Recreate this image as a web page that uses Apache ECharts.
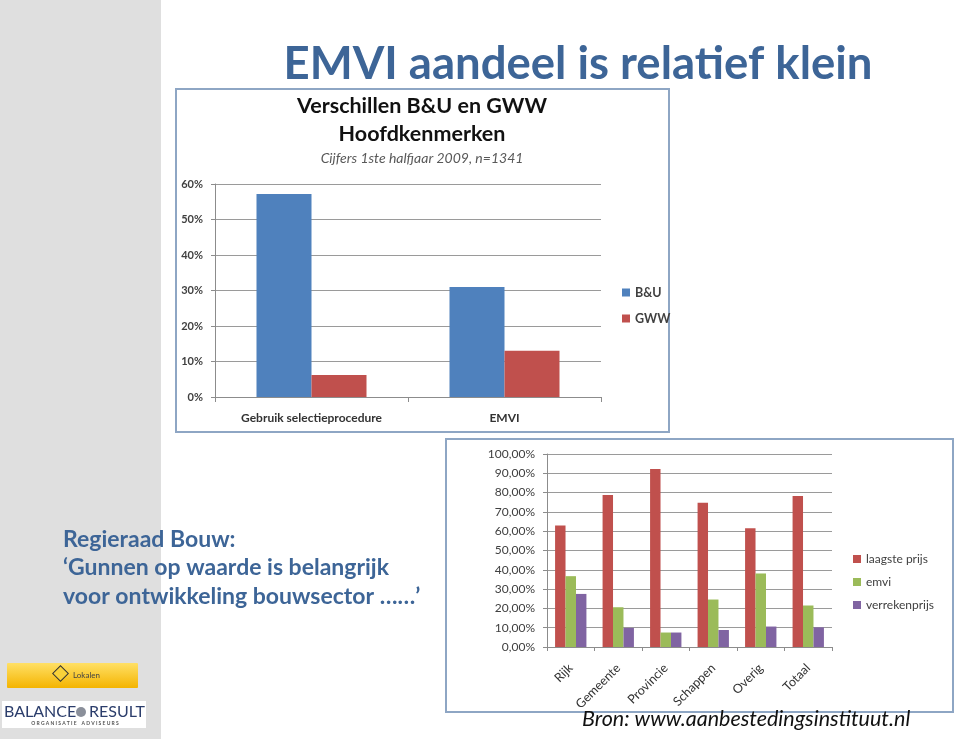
<!DOCTYPE html>
<html>
<head>
<meta charset="utf-8">
<script src="https://cdn.jsdelivr.net/npm/echarts@6/dist/echarts.min.js"></script>
<style>
html,body{margin:0;padding:0;background:#fff;}
#c{width:959px;height:739px;}
</style>
</head>
<body>
<div id="c"></div>
<script>
// Top chart data
var topCategories = ['Gebruik selectieprocedure', 'EMVI'];
var topBU = [57.2, 31.0];
var topGWW = [6.2, 13.0];
var topTicks = [0, 10, 20, 30, 40, 50, 60];

// Bottom chart data
var botCategories = ['Rijk', 'Gemeente', 'Provincie', 'Schappen', 'Overig', 'Totaal'];
var laagstePrijs = [62.9, 78.8, 92.2, 74.8, 61.5, 78.3];
var emvi = [36.7, 20.6, 7.5, 24.6, 38.1, 21.5];
var verrekenprijs = [27.5, 9.9, 7.5, 8.8, 10.6, 10.2];

var FONT = 'Lato, "Open Sans", sans-serif';
var chart = echarts.init(document.getElementById('c'), null, {renderer: 'canvas'});

var option = {
  animation: false,
  backgroundColor: '#ffffff',
  textStyle: {fontFamily: FONT},
  graphic: [
    {type: 'rect', z: -10, shape: {x: 0, y: 0, width: 161, height: 739}, style: {fill: '#dfdfdf'}},
    {type: 'rect', z: -9, shape: {x: 176, y: 89, width: 493, height: 343}, style: {fill: '#ffffff', stroke: '#8ea6c4', lineWidth: 2}},
    {type: 'rect', z: -9, shape: {x: 446, y: 439, width: 507, height: 273}, style: {fill: '#ffffff', stroke: '#8ea6c4', lineWidth: 2}},
    {type: 'text', z: 10, style: {text: 'EMVI aandeel is relatief klein', x: 578, y: 64, align: 'center', verticalAlign: 'middle', font: 'bold 45.5px ' + FONT, fill: '#3d6597'}},
    {type: 'text', z: 10, style: {text: 'Verschillen B&U en GWW', x: 422, y: 106, align: 'center', verticalAlign: 'middle', font: 'bold 21.5px ' + FONT, fill: '#111'}},
    {type: 'text', z: 10, style: {text: 'Hoofdkenmerken', x: 422, y: 134, align: 'center', verticalAlign: 'middle', font: 'bold 21.5px ' + FONT, fill: '#111'}},
    {type: 'text', z: 10, style: {text: 'Cijfers 1ste halfjaar 2009, n=1341', x: 422, y: 158, align: 'center', verticalAlign: 'middle', font: 'italic 14px ' + FONT, fill: '#595959'}},
    {type: 'text', z: 10, style: {text: 'Regieraad Bouw:', x: 63, y: 540, align: 'left', verticalAlign: 'middle', font: 'bold 23px ' + FONT, fill: '#3d6597'}},
    {type: 'text', z: 10, style: {text: '\u2018Gunnen op waarde is belangrijk', x: 63, y: 568, align: 'left', verticalAlign: 'middle', font: 'bold 23px ' + FONT, fill: '#3d6597'}},
    {type: 'text', z: 10, style: {text: 'voor ontwikkeling bouwsector \u2026\u2026\u2019', x: 63, y: 597, align: 'left', verticalAlign: 'middle', font: 'bold 23px ' + FONT, fill: '#3d6597'}},
    {type: 'text', z: 10, style: {text: 'Bron: www.aanbestedingsinstituut.nl', x: 582, y: 719, align: 'left', verticalAlign: 'middle', font: 'italic 21.5px ' + FONT, fill: '#111'}},
    // Lokalen logo
    {type: 'rect', z: 5, shape: {x: 7, y: 663, width: 131, height: 25, r: 1},
      style: {fill: new echarts.graphic.LinearGradient(0, 0, 0, 1, [{offset: 0, color: '#ffe066'}, {offset: 1, color: '#f4b400'}])}},
    {type: 'rect', z: 6, shape: {x: 55, y: 668, width: 11, height: 11}, rotation: Math.PI / 4, originX: 60.5, originY: 673.5,
      style: {fill: '#f9d23a', stroke: '#333', lineWidth: 1}},
    {type: 'text', z: 7, style: {text: 'Lokalen', x: 73, y: 675, align: 'left', verticalAlign: 'middle', font: '8px ' + FONT, fill: '#444'}},
    // Balance Result logo
    {type: 'rect', z: 5, shape: {x: 2, y: 701, width: 144, height: 27}, style: {fill: '#ffffff'}},
    {type: 'text', z: 6, style: {text: 'BALANCE', x: 4, y: 712, align: 'left', verticalAlign: 'middle', font: '16px ' + FONT, fill: '#2b3d6b'}},
    {type: 'circle', z: 6, shape: {cx: 81, cy: 712, r: 5}, style: {fill: '#8a8f9a'}},
    {type: 'text', z: 6, style: {text: 'RESULT', x: 89, y: 712, align: 'left', verticalAlign: 'middle', font: '16px ' + FONT, fill: '#2b3d6b'}},
    {type: 'text', z: 6, style: {text: 'O R G A N I S A T I E    A D V I S E U R S', x: 75, y: 723, align: 'center', verticalAlign: 'middle', font: 'bold 5px ' + FONT, fill: '#555'}}
  ],
  legend: [
    {
      data: ['B&U', 'GWW'], orient: 'vertical', left: 617, top: 281,
      itemWidth: 8, itemHeight: 8, itemGap: 13, icon: 'rect',
      textStyle: {fontSize: 12.5, fontWeight: 'bold', color: '#404040', fontFamily: FONT}
    },
    {
      data: ['laagste prijs', 'emvi', 'verrekenprijs'], orient: 'vertical', left: 848, top: 548,
      itemWidth: 8, itemHeight: 8, itemGap: 11, icon: 'rect',
      textStyle: {fontSize: 12, color: '#404040', fontFamily: FONT}
    }
  ],
  grid: [
    {left: 215, right: 358, top: 184, bottom: 342},
    {left: 547, right: 127, top: 454, bottom: 92}
  ],
  xAxis: [
    {
      type: 'category', gridIndex: 0, data: topCategories,
      axisLine: {lineStyle: {color: '#8c8c8c'}},
      axisTick: {show: true, length: 5, lineStyle: {color: '#8c8c8c'}},
      axisLabel: {fontSize: 12, fontWeight: 'bold', color: '#333', margin: 15, fontFamily: FONT}
    },
    {
      type: 'category', gridIndex: 1, data: botCategories,
      axisLine: {lineStyle: {color: '#8c8c8c'}},
      axisTick: {show: true, length: 4, lineStyle: {color: '#8c8c8c'}},
      axisLabel: {fontSize: 12.5, color: '#333', rotate: 45, margin: 19, fontFamily: FONT}
    }
  ],
  yAxis: [
    {
      type: 'value', gridIndex: 0, min: topTicks[0], max: topTicks[topTicks.length - 1], interval: 10,
      axisLine: {show: true, lineStyle: {color: '#8c8c8c'}},
      axisTick: {show: true, length: 4, lineStyle: {color: '#8c8c8c'}},
      splitLine: {lineStyle: {color: '#9a9a9a'}},
      axisLabel: {fontSize: 11, fontWeight: 'bold', color: '#404040', margin: 12, fontFamily: FONT,
        formatter: function (v) { return v + '%'; }}
    },
    {
      type: 'value', gridIndex: 1, min: 0, max: 100, interval: 10,
      axisLine: {show: true, lineStyle: {color: '#8c8c8c'}},
      axisTick: {show: true, length: 4, lineStyle: {color: '#8c8c8c'}},
      splitLine: {lineStyle: {color: '#9a9a9a'}},
      axisLabel: {fontSize: 12, color: '#404040', margin: 12, fontFamily: FONT,
        formatter: function (v) { return v.toFixed(2).replace('.', ',') + '%'; }}
    }
  ],
  series: [
    {name: 'B&U', type: 'bar', xAxisIndex: 0, yAxisIndex: 0, data: topBU, itemStyle: {color: '#4f81bd'}, barGap: '0%', barCategoryGap: '43%'},
    {name: 'GWW', type: 'bar', xAxisIndex: 0, yAxisIndex: 0, data: topGWW, itemStyle: {color: '#c0504d'}, barGap: '0%', barCategoryGap: '43%'},
    {name: 'laagste prijs', type: 'bar', xAxisIndex: 1, yAxisIndex: 1, data: laagstePrijs, itemStyle: {color: '#c0504d'}, barGap: '0%', barCategoryGap: '34%'},
    {name: 'emvi', type: 'bar', xAxisIndex: 1, yAxisIndex: 1, data: emvi, itemStyle: {color: '#9bbb59'}, barGap: '0%', barCategoryGap: '34%'},
    {name: 'verrekenprijs', type: 'bar', xAxisIndex: 1, yAxisIndex: 1, data: verrekenprijs, itemStyle: {color: '#8064a2'}, barGap: '0%', barCategoryGap: '34%'}
  ]
};
chart.setOption(option);
</script>
</body>
</html>
